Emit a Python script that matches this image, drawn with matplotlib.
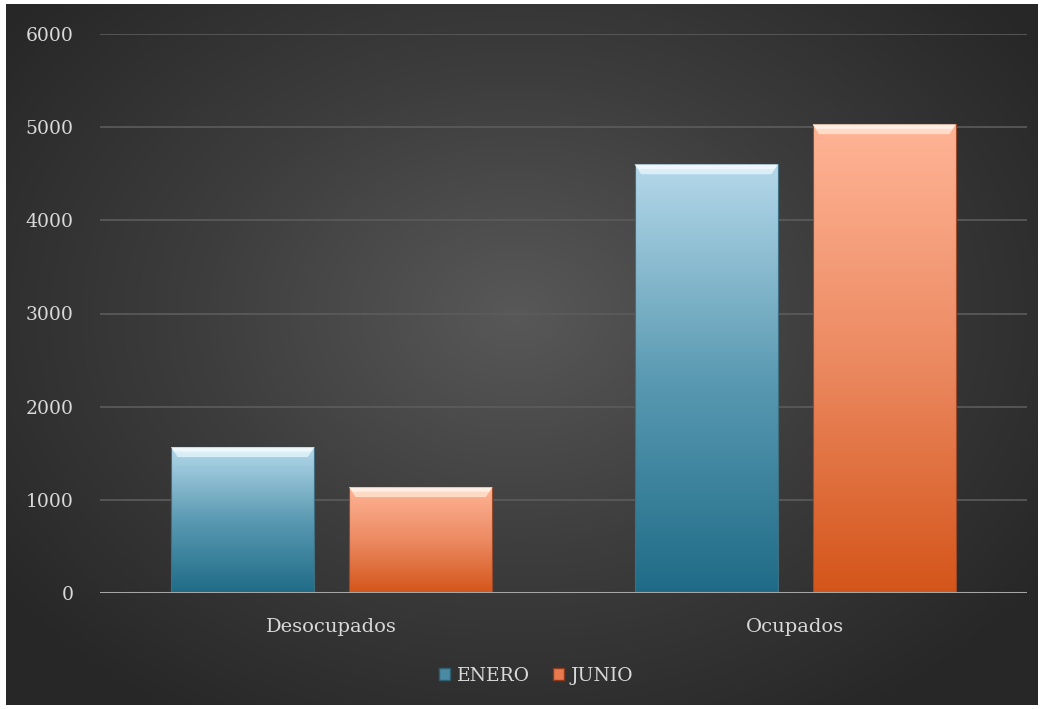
import numpy as np
import matplotlib.pyplot as plt
from matplotlib.colors import LinearSegmentedColormap
from matplotlib.patches import Patch, Polygon

# Data
categories = ['Desocupados', 'Ocupados']
enero = [1565, 4600]
junio = [1135, 5030]
series_names = ['ENERO', 'JUNIO']

W, H = 1044, 709
fig = plt.figure(figsize=(W / 100, H / 100), dpi=100, facecolor='white')
FONT = 'DejaVu Serif'

# dark radial background
bg = fig.add_axes([6 / W, 4 / H, 1032 / W, 701 / H])
yy, xx = np.mgrid[0:701, 0:1032]
r = np.sqrt(((xx - 510) / 640.0) ** 2 + ((yy - 310) / 480.0) ** 2)
r = np.clip(r, 0, 1)
bg_cmap = LinearSegmentedColormap.from_list('bg', ['#585858', '#3d3d3d', '#272727'])
bg.imshow(r, cmap=bg_cmap, aspect='auto', interpolation='bilinear', vmin=0, vmax=1)
bg.axis('off')

ax = fig.add_axes([100 / W, (H - 593) / H, 927 / W, 559 / H])
ax.patch.set_alpha(0)
ax.set_xlim(-0.5, 1.5)
ax.set_ylim(0, 6000)

x = np.arange(len(categories))
width = 0.309
off = 0.192

blue_cmap = LinearSegmentedColormap.from_list('b', ['#1f6b87', '#5a9ab2', '#b5d8ea'])
orange_cmap = LinearSegmentedColormap.from_list('o', ['#d4551a', '#ec8a62', '#ffb496'])

bars_e = ax.bar(x - off, enero, width, color='none', zorder=3)
bars_j = ax.bar(x + off, junio, width, color='none', zorder=3)

grad = np.linspace(0, 1, 256).reshape(-1, 1)
bevel = 105  # data units for the top bevel
for bars, cmap, edge, hi in [(bars_e, blue_cmap, '#3f6f80', '#eefaff'),
                             (bars_j, orange_cmap, '#9a4a2a', '#ffeedd')]:
    for b in bars:
        x0, w, h = b.get_x(), b.get_width(), b.get_height()
        ax.imshow(grad, cmap=cmap, aspect='auto', origin='lower',
                  extent=[x0, x0 + w, 0, h], zorder=2)
        # light bevel strip on top
        dx = w * 0.045
        ax.add_patch(Polygon([[x0, h], [x0 + w, h], [x0 + w - dx, h - bevel],
                              [x0 + dx, h - bevel]], closed=True,
                             facecolor=hi, edgecolor='none', alpha=0.7, zorder=3))
        ax.add_patch(Polygon([[x0, h], [x0 + w, h], [x0 + w - dx * 0.5, h - bevel * 0.45],
                              [x0 + dx * 0.5, h - bevel * 0.45]], closed=True,
                             facecolor='white', edgecolor='none', alpha=0.55, zorder=3))
        b.set_edgecolor(edge)
        b.set_linewidth(0.8)

ax.set_yticks(range(0, 6001, 1000))
ax.grid(axis='y', color='#5c5c5c', linewidth=1.2, zorder=1)
ax.set_axisbelow(True)
ax.axhline(0, color='#a6a6a6', linewidth=2.2, zorder=4)
for s in ax.spines.values():
    s.set_visible(False)

ax.set_xticks(x)
ax.set_xticklabels(categories)
ax.tick_params(length=0, colors='#d9d9d9', labelsize=13.5)
ax.tick_params(axis='y', pad=19)
ax.tick_params(axis='x', pad=18, labelsize=14)
for lbl in ax.get_xticklabels() + ax.get_yticklabels():
    lbl.set_fontfamily(FONT)

handles = [Patch(facecolor='#4a8aa3', edgecolor='#2f5f70'),
           Patch(facecolor='#e87a50', edgecolor='#8a3a1a')]
leg = fig.legend(handles, series_names, loc='center', bbox_to_anchor=(536 / W, (H - 676) / H),
                 ncol=2, frameon=False, handlelength=0.6, handleheight=0.6,
                 handletextpad=0.35, columnspacing=1.2,
                 prop={'family': FONT, 'size': 13.5})
for t in leg.get_texts():
    t.set_color('#d9d9d9')

plt.savefig('out.png', dpi=100, facecolor='white')
